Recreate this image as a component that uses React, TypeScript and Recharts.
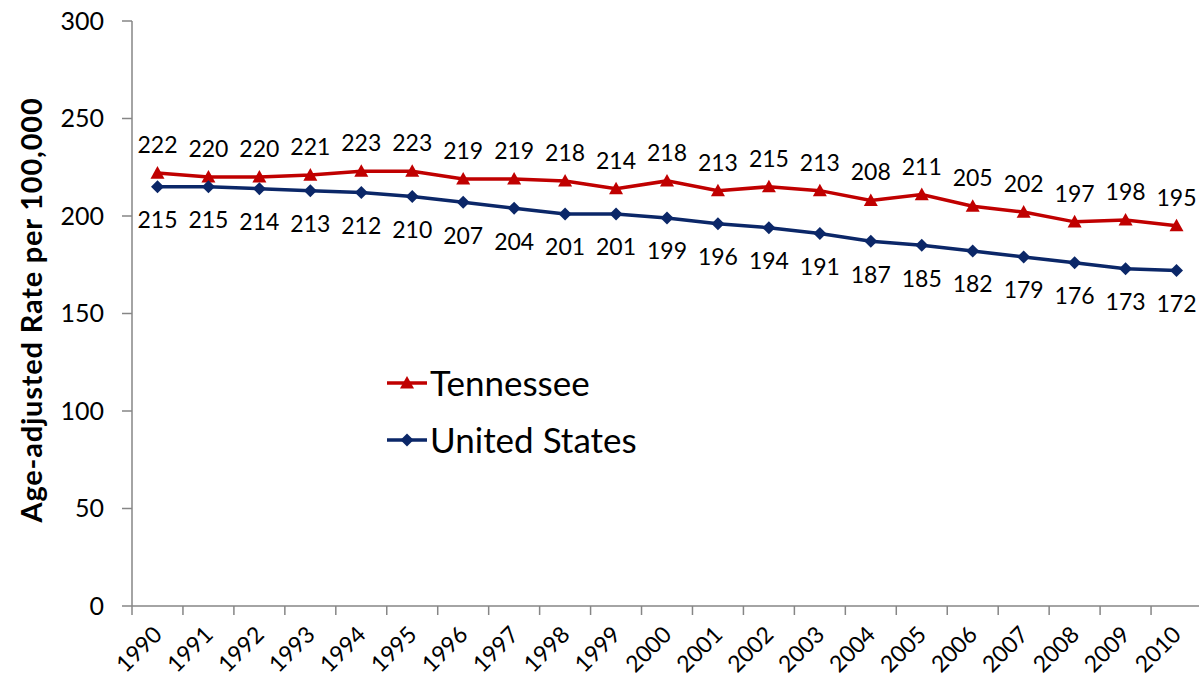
import React from "react";
import { LineChart, Line, XAxis, YAxis, LabelList } from "recharts";

const years = ["1990","1991","1992","1993","1994","1995","1996","1997","1998","1999","2000","2001","2002","2003","2004","2005","2006","2007","2008","2009","2010"];
const tennessee = [222,220,220,221,223,223,219,219,218,214,218,213,215,213,208,211,205,202,197,198,195];
const unitedStates = [215,215,214,213,212,210,207,204,201,201,199,196,194,191,187,185,182,179,176,173,172];
const yTicks = [0,50,100,150,200,250,300];
const seriesNames = ["Tennessee", "United States"];

const data = years.map((y, i) => ({ idx: i, year: y, tn: tennessee[i], us: unitedStates[i] }));
const xTicks = years.map((_, i) => i);

const W = 1199;
const H = 680;
const YW = 132;
const MR = -3;
const FONT = "Lato, 'Open Sans', sans-serif";
const RED = "#C00000";
const NAVY = "#0B2768";
const AXIS = "#868686";
const plotW = W - YW - MR;
const half = plotW / years.length / 2;

const Tri = (props: any) => {
  const { cx, cy, fill, index } = props;
  if (cx == null || cy == null) return null;
  const s = 7;
  return <path key={"t" + index} d={`M${cx},${cy - s} L${cx + s},${cy + s * 0.8} L${cx - s},${cy + s * 0.8} Z`} fill={fill} />;
};
const Dia = (props: any) => {
  const { cx, cy, fill, index } = props;
  if (cx == null || cy == null) return null;
  const s = 6.5;
  return <path key={"d" + index} d={`M${cx},${cy - s} L${cx + s},${cy} L${cx},${cy + s} L${cx - s},${cy} Z`} fill={fill} />;
};

const XTick = (props: any) => {
  const { x, y, payload, index } = props;
  const label = years[payload.value];
  const tx = x + 6;
  const ty = y + 30;
  return (
    <g key={"xt" + index}>
      <line x1={x - half} y1={y} x2={x - half} y2={y + 9} stroke={AXIS} strokeWidth={1.5} />
      {payload.value === years.length - 1 && (
        <line x1={x + half} y1={y} x2={x + half} y2={y + 9} stroke={AXIS} strokeWidth={1.5} />
      )}
      <text x={tx} y={ty} transform={`rotate(-45, ${tx}, ${ty})`} textAnchor="end" fontSize={23} fontFamily={FONT} fill="#000">
        {label}
      </text>
    </g>
  );
};

const LegendBox = () => (
  <div style={{ position: "absolute", left: 387, top: 354, fontFamily: FONT, fontSize: 35, color: "#000", lineHeight: "57px" }}>
    <div style={{ display: "flex", alignItems: "center" }}>
      <svg width={42} height={20} style={{ marginRight: 1 }}>
        <line x1={0} y1={10} x2={40} y2={10} stroke={RED} strokeWidth={3.5} />
        <path d="M20,3 L27,15.6 L13,15.6 Z" fill={RED} />
      </svg>
      <span>{seriesNames[0]}</span>
    </div>
    <div style={{ display: "flex", alignItems: "center" }}>
      <svg width={42} height={20} style={{ marginRight: 1 }}>
        <line x1={0} y1={10} x2={40} y2={10} stroke={NAVY} strokeWidth={3.5} />
        <path d="M20,3.5 L26.5,10 L20,16.5 L13.5,10 Z" fill={NAVY} />
      </svg>
      <span>{seriesNames[1]}</span>
    </div>
  </div>
);

const YLabel = () => {
  const cy = 310;
  const cx = 30;
  return (
    <text x={cx} y={cy} transform={`rotate(-90, ${cx}, ${cy})`} textAnchor="middle" dominantBaseline="central" fontSize={29} letterSpacing={0.8} fontWeight="bold" fontFamily={FONT} fill="#000">
      Age-adjusted Rate per 100,000
    </text>
  );
};

export default function App() {
  return (
    <div style={{ position: "absolute", left: 0, top: 0, width: W, height: H, background: "#fff", overflow: "hidden" }}>
      <style>{`body{margin:0;}`}</style>
      <LineChart width={W} height={H} data={data} margin={{ top: 21, right: MR, bottom: 0, left: 0 }}>
        <XAxis
          dataKey="idx"
          type="number"
          domain={[-0.5, years.length - 0.5]}
          allowDataOverflow
          ticks={xTicks}
          interval={0}
          height={74}
          tickSize={0}
          tickMargin={0}
          tickLine={false}
          tick={<XTick />}
          stroke={AXIS}
          strokeWidth={1.5}
        />
        <YAxis
          type="number"
          domain={[0, 300]}
          ticks={yTicks}
          width={YW}
          tickSize={10}
          tickMargin={18}
          stroke={AXIS}
          strokeWidth={1.5}
          tick={{ fontSize: 25, fontFamily: FONT, fill: "#000" }}
          label={<YLabel />}
        />
        <Line dataKey="tn" name={seriesNames[0]} stroke={RED} strokeWidth={3.5} dot={<Tri fill={RED} />} isAnimationActive={false}>
          <LabelList dataKey="tn" position="top" offset={20} fontSize={23} fontFamily={FONT} fill="#000" />
        </Line>
        <Line dataKey="us" name={seriesNames[1]} stroke={NAVY} strokeWidth={3.5} dot={<Dia fill={NAVY} />} isAnimationActive={false}>
          <LabelList dataKey="us" position="bottom" offset={25} fontSize={23} fontFamily={FONT} fill="#000" />
        </Line>
      </LineChart>
      <LegendBox />
    </div>
  );
}
